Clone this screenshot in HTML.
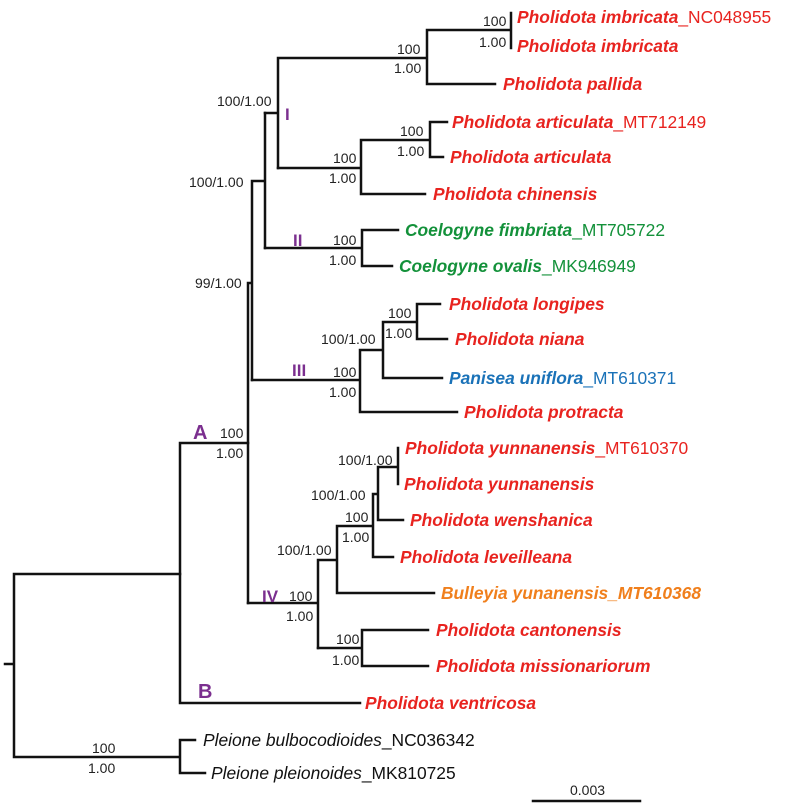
<!DOCTYPE html>
<html><head><meta charset="utf-8"><style>
body{margin:0;background:#fff}
svg{display:block}
.n{font-family:"Liberation Sans",sans-serif;font-size:14px;fill:#222}
.s{font-family:"Liberation Sans",sans-serif;font-size:17.4px;font-style:italic;font-weight:bold}
.a{font-style:normal;font-weight:normal}
.r{fill:#e8231f}.g{fill:#13913a}.b{fill:#1a72b8}.o{fill:#f07f1c}.k{fill:#111;font-weight:normal}
.p{font-family:"Liberation Sans",sans-serif;font-weight:bold;fill:#7b2f8f}
</style></head><body>
<svg width="800" height="806" viewBox="0 0 800 806" xmlns="http://www.w3.org/2000/svg">
<g stroke="#111" stroke-width="2.5" fill="none" stroke-linecap="square">
<path d="M5 664H14M14 574V757M14 574H180M14 757H180M180 740V773M180 740H195M180 773H205"/>
<path d="M180 443V703M180 443H248M180 703H360"/>
<path d="M248 283V603M248 283H252M252 181V380M252 181H265M265 113V248"/>
<path d="M265 113H278M278 58V168M278 58H427M427 30V84M427 30H511M511 13V48M427 84H495"/>
<path d="M278 168H361M361 140V194M361 140H430M430 122V157M430 122H447M430 157H443M361 194H425"/>
<path d="M265 248H362M362 230V266M362 230H398M362 266H392"/>
<path d="M252 380H360M360 350V412M360 350H383M383 322V378M383 322H417M417 304V339M417 304H440M417 339H447M383 378H442M360 412H457"/>
<path d="M248 603H318M318 560V648M318 560H337M337 526V593M337 526H373M373 494V557M373 494H378M378 467V520M378 467H398M398 448V484M373 557H393M378 520H403M337 593H434"/>
<path d="M318 648H362M362 630V666M362 630H428M362 666H428"/>
<path d="M533 801H640"/>
</g>
<g class="s">
<text x="517" y="23" class="r">Pholidota imbricata<tspan class="a">_NC048955</tspan></text>
<text x="517" y="52" class="r">Pholidota imbricata</text>
<text x="503" y="90" class="r">Pholidota pallida</text>
<text x="452" y="128" class="r">Pholidota articulata<tspan class="a">_MT712149</tspan></text>
<text x="450" y="163" class="r">Pholidota articulata</text>
<text x="433" y="200" class="r">Pholidota chinensis</text>
<text x="405" y="236" class="g">Coelogyne fimbriata<tspan class="a">_MT705722</tspan></text>
<text x="399" y="272" class="g">Coelogyne ovalis<tspan class="a">_MK946949</tspan></text>
<text x="449" y="310" class="r">Pholidota longipes</text>
<text x="455" y="345" class="r">Pholidota niana</text>
<text x="449" y="384" class="b">Panisea uniflora<tspan class="a">_MT610371</tspan></text>
<text x="464" y="418" class="r">Pholidota protracta</text>
<text x="405" y="454" class="r">Pholidota yunnanensis<tspan class="a">_MT610370</tspan></text>
<text x="404" y="490" class="r">Pholidota yunnanensis</text>
<text x="410" y="526" class="r">Pholidota wenshanica</text>
<text x="400" y="563" class="r">Pholidota leveilleana</text>
<text x="441" y="599" class="o">Bulleyia yunanensis_MT610368</text>
<text x="436" y="636" class="r">Pholidota cantonensis</text>
<text x="436" y="672" class="r">Pholidota missionariorum</text>
<text x="365" y="709" class="r">Pholidota ventricosa</text>
<text x="203" y="746" class="k">Pleione bulbocodioides<tspan class="a">_NC036342</tspan></text>
<text x="211" y="779" class="k">Pleione pleionoides<tspan class="a">_MK810725</tspan></text>
</g>
<g class="n">
<text x="483" y="26">100</text><text x="479" y="47">1.00</text>
<text x="397" y="54">100</text><text x="394" y="73">1.00</text>
<text x="217" y="106">100/1.00</text>
<text x="400" y="136">100</text><text x="397" y="156">1.00</text>
<text x="333" y="163">100</text><text x="329" y="183">1.00</text>
<text x="189" y="187">100/1.00</text>
<text x="333" y="245">100</text><text x="329" y="265">1.00</text>
<text x="195" y="288">99/1.00</text>
<text x="388" y="318">100</text><text x="385" y="338">1.00</text>
<text x="321" y="344">100/1.00</text>
<text x="333" y="377">100</text><text x="329" y="397">1.00</text>
<text x="220" y="438">100</text><text x="216" y="458">1.00</text>
<text x="338" y="465">100/1.00</text>
<text x="311" y="500">100/1.00</text>
<text x="345" y="522">100</text><text x="342" y="542">1.00</text>
<text x="277" y="555">100/1.00</text>
<text x="289" y="601">100</text><text x="286" y="621">1.00</text>
<text x="336" y="644">100</text><text x="332" y="665">1.00</text>
<text x="92" y="753">100</text><text x="88" y="773">1.00</text>
<text x="570" y="795">0.003</text>
</g>
<g class="p">
<text x="285" y="120" font-size="17">I</text>
<text x="293" y="246" font-size="17">II</text>
<text x="292" y="376" font-size="17">III</text>
<text x="262" y="602" font-size="17">IV</text>
<text x="193" y="439" font-size="20">A</text>
<text x="198" y="698" font-size="20">B</text>
</g>
</svg>
</body></html>
